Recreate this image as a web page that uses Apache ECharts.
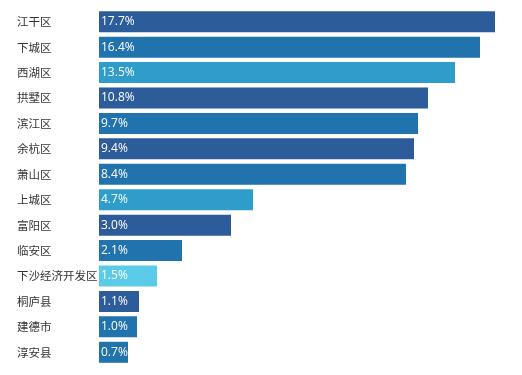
<!DOCTYPE html>
<html>
<head>
<meta charset="utf-8">
<script src="https://cdn.jsdelivr.net/npm/echarts@6/dist/echarts.min.js"></script>
<style>
  html, body { margin: 0; padding: 0; background: #fff; }
  #main { width: 522px; height: 375px; }
</style>
</head>
<body>
<div id="main"></div>
<script>
// 区县
var districts = ["江干区", "下城区", "西湖区", "拱墅区", "滨江区", "余杭区", "萧山区",
  "上城区", "富阳区", "临安区", "下沙经济开发区", "桐庐县", "建德市", "淳安县"];
// 条形长度（按图中读取，非线性）
var barLengths = [396, 381, 356, 329, 319, 315, 307, 154, 132, 83, 58, 40, 38, 29];
// 标签文字
var shareLabels = ["17.7%", "16.4%", "13.5%", "10.8%", "9.7%", "9.4%", "8.4%",
  "4.7%", "3.0%", "2.1%", "1.5%", "1.1%", "1.0%", "0.7%"];
// 颜色分组
var colorGroups = ["dark", "mid", "light", "dark", "mid", "dark", "mid",
  "light", "dark", "mid", "pale", "dark", "mid", "mid"];

var palette = { dark: "#2d5c9b", mid: "#2073ac", light: "#2e9dca", pale: "#5ccbea" };

var chart = echarts.init(document.getElementById("main"));
chart.setOption({
  animation: false,
  grid: { left: 99, right: 27, top: 9, bottom: 10 },
  xAxis: {
    type: "value",
    min: 0,
    max: 396,
    show: false
  },
  yAxis: {
    type: "category",
    inverse: true,
    data: districts,
    axisLine: { show: false },
    axisTick: { show: false },
    splitLine: { show: false },
    axisLabel: {
      align: "left",
      margin: 82,
      color: "#333",
      fontSize: 11.5,
      fontFamily: "Noto Sans CJK SC"
    }
  },
  series: [{
    type: "bar",
    barWidth: 21,
    data: barLengths.map(function (v, i) {
      return { value: v, itemStyle: { color: palette[colorGroups[i]] } };
    }),
    label: {
      show: true,
      position: "insideLeft",
      offset: [-3, 0],
      color: "#fff",
      fontSize: 12,
      fontFamily: "Open Sans",
      formatter: function (p) { return shareLabels[p.dataIndex]; }
    }
  }]
});
</script>
</body>
</html>
